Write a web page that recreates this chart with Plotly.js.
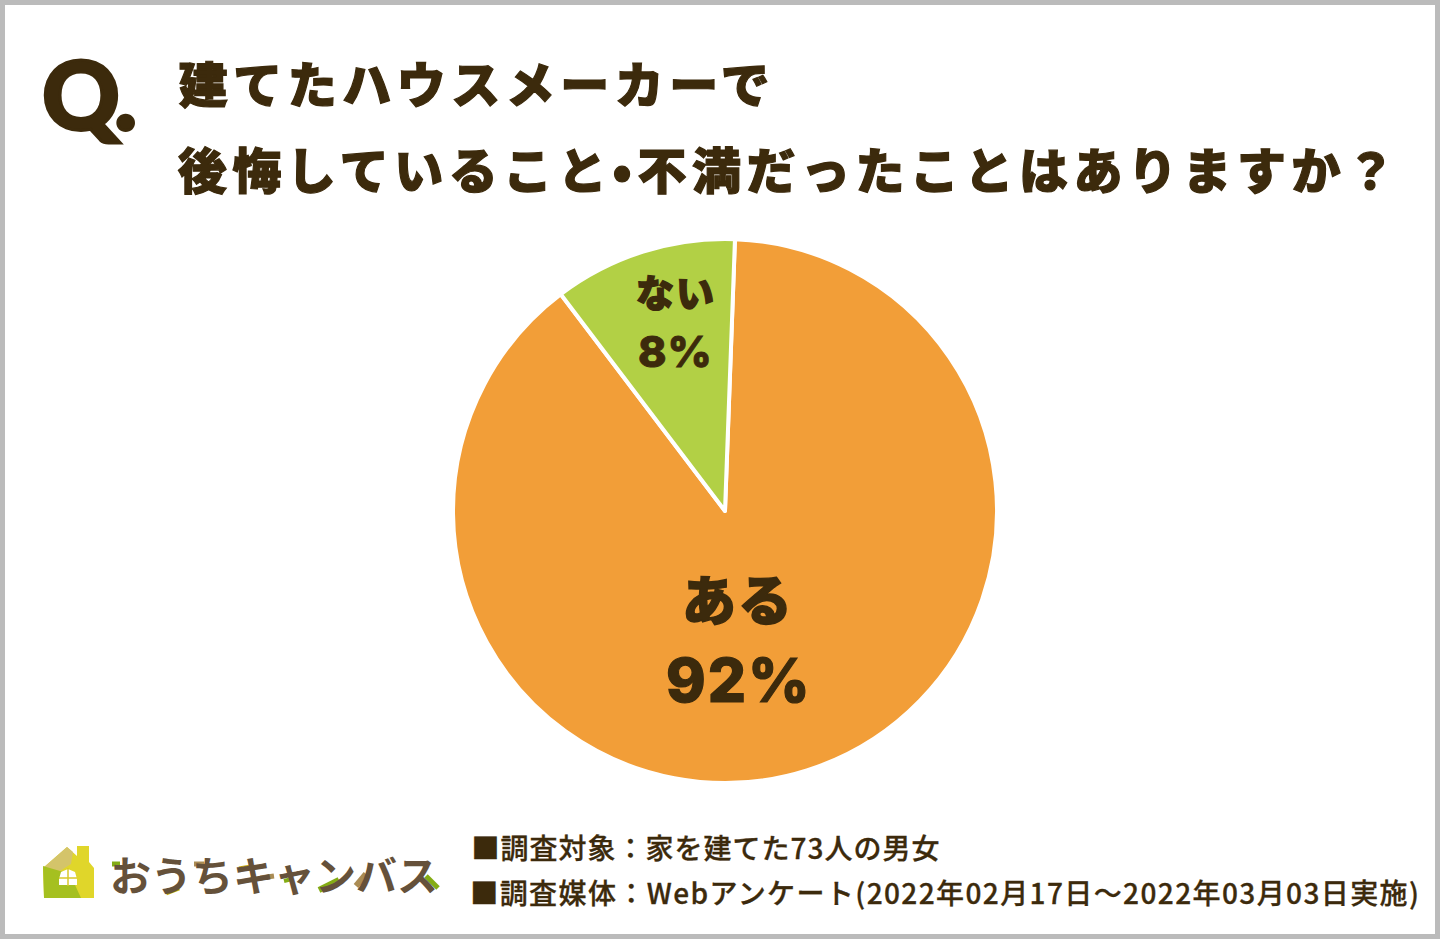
<!DOCTYPE html>
<html>
<head>
<meta charset="utf-8">
<script src="https://cdn.plot.ly/plotly-3.0.1.min.js"></script>
<style>
html, body { margin: 0; padding: 0; background: #fff; }
#chart { width: 1440px; height: 939px; }
/* plotly has no letter spacing or stroke option, so these go on the svg text */
.annotation[data-index="0"] text { letter-spacing: -4px; stroke: #3c2a0c; stroke-width: 3px; }
.annotation[data-index="1"] text, .annotation[data-index="2"] text { letter-spacing: 5.5px; stroke: #3c2a0c; stroke-width: 1.2px; }
.annotation[data-index="3"] text, .annotation[data-index="5"] text { letter-spacing: 2px; stroke: #3c2a0c; stroke-width: 1.4px; }
.annotation[data-index="4"] text { letter-spacing: 2px; stroke: #3c2a0c; stroke-width: 1.2px; }
.annotation[data-index="6"] text { letter-spacing: 1px; stroke: #3c2a0c; stroke-width: 0.9px; }
.annotation[data-index="7"] text { letter-spacing: 1px; stroke: #3c2a0c; stroke-width: 0.3px; }
.annotation[data-index="8"] text { letter-spacing: 1.4px; stroke: #3c2a0c; stroke-width: 0.3px; }
</style>
</head>
<body>
<div id="chart"></div>
<script>
var W = 1440, H = 939;

var answers = ["ある", "ない"];
var printedPercents = ["92%", "8%"];
// slice sizes as drawn in the picture, the artwork does not follow its printed 92/8
var drawnShares = [89.1, 10.9];
var sliceColors = ["#f29e38", "#b2d045"];

var titleLines = ["建てたハウスメーカーで", "後悔していること•不満だったことはありますか？"];
var footerLines = ["■調査対象：家を建てた73人の男女", "■調査媒体：Webアンケート(2022年02月17日～2022年03月03日実施)"];
var logoText = "おうちキャンバス";

var dark = "#3c2a0c";
var jp = "'Noto Sans CJK JP', 'Noto Sans', sans-serif";
var latin = "Inter, 'Noto Sans', sans-serif";

function px(x) { return x / W; }
function py(y) { return 1 - y / H; }

function poly(points) {
    return points.map((p, i) => (i ? "L" : "M") + px(p[0]) + "," + py(p[1])).join(" ") + " Z";
}

function note(text, x, y, size, color, anchor, weight, family) {
    return {
        text: text, x: px(x), y: py(y), xref: "paper", yref: "paper",
        xanchor: anchor, yanchor: "middle", showarrow: false,
        font: {family: family || jp, size: size, color: color, weight: weight}
    };
}

function stroke(x0, y0, x1, y1, color, width) {
    return {
        type: "line", xref: "paper", yref: "paper", layer: "above",
        x0: px(x0), y0: py(y0), x1: px(x1), y1: py(y1),
        line: {color: color, width: width}
    };
}

function fill(points, color) {
    return {
        type: "path", xref: "paper", yref: "paper", layer: "above",
        path: poly(points), fillcolor: color, line: {width: 0}
    };
}

var trace = {
    type: "pie",
    labels: answers,
    values: drawnShares,
    sort: false,
    direction: "clockwise",
    rotation: 2.1,
    textinfo: "none",
    hoverinfo: "label",
    marker: {colors: sliceColors, line: {color: "#ffffff", width: 4}},
    domain: {x: [453 / W, 997 / W], y: [156 / H, 700 / H]}
};

// the css letter spacing is not in plotly's text measure, so the spaced lines are moved right to land
var annotations = [
    note("Q.", 36, 93, 96, dark, "left", 900, "Lato, sans-serif"),
    note(titleLines[0], 207, 82, 49, dark, "left", 900),
    note(titleLines[1], 239, 167, 49, dark, "left", 900),
    note(answers[0], 738, 597, 54, dark, "center", 900),
    note(printedPercents[0], 739, 680, 60, dark, "center", 800, latin),
    note(answers[1], 676, 290, 38, dark, "center", 900),
    note(printedPercents[1], 675, 351, 43, dark, "center", 800, latin),
    note(footerLines[0], 478, 847, 28, dark, "left", 500),
    note(footerLines[1], 497, 892, 28, dark, "left", 500),
    note(logoText, 108, 873, 41, "#65513a", "left", 700)
];

var shapes = [
    // grey frame
    {type: "rect", xref: "paper", yref: "paper", x0: px(2.5), y0: py(2.5), x1: px(1437.5), y1: py(936.5),
     line: {color: "#bbbbbb", width: 5}, fillcolor: "rgba(0,0,0,0)"},
    // house logo
    fill([[43, 868], [67, 847], [77, 856], [77, 846], [89, 846], [89, 862], [94, 868], [94, 898], [44, 898]], "#e0d62a"),
    fill([[43, 868], [67, 847], [73, 852], [71, 864], [60, 871]], "#d4c46a"),
    fill([[43, 866], [60, 871], [70, 874], [81, 898], [44, 898]], "#a5c020"),
    fill([[59, 879], [61, 872], [68, 869], [75, 872], [77, 879], [77, 885], [59, 885]], "#ffffff"),
    stroke(68, 868, 68, 886, "#d8c92a", 1.5),
    stroke(59, 878, 77, 878, "#d8c92a", 1.5),
    // coloured accents on the logo lettering
    stroke(112, 864, 120, 864, "#84ac14", 5),
    stroke(166, 893, 179, 888, "#c8ad0c", 5),
    stroke(194, 864, 204, 864, "#ab8c54", 5),
    stroke(239, 869, 251, 867, "#c8ad0c", 5),
    stroke(260, 878, 274, 876, "#ab8c54", 5),
    stroke(284, 881, 292, 879, "#84ac14", 4),
    stroke(319, 890, 339, 880, "#84ac14", 6),
    stroke(356, 886, 366, 874, "#ab8c54", 6),
    stroke(426, 876, 438, 888, "#84ac14", 5)
];

var layout = {
    width: W,
    height: H,
    margin: {l: 0, r: 0, t: 0, b: 0},
    paper_bgcolor: "#ffffff",
    showlegend: false,
    annotations: annotations,
    shapes: shapes
};

Plotly.newPlot("chart", [trace], layout, {displayModeBar: false});
</script>
</body>
</html>
